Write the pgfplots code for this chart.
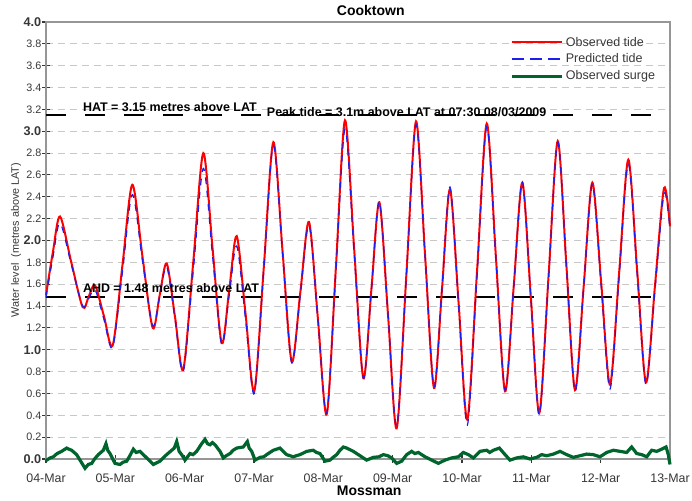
\documentclass[border=0pt]{standalone}
\usepackage{fontspec}
\setmainfont{Liberation Sans}
\usepackage{pgfplots}
\pgfplotsset{compat=1.18}
\usepackage{pgfplotstable}

\definecolor{obsred}{RGB}{255,0,0}
\definecolor{predblue}{RGB}{30,30,235}
\definecolor{surgegreen}{RGB}{0,100,45}
\definecolor{gridgray}{RGB}{200,200,200}
\definecolor{axisgray}{RGB}{150,150,150}
\definecolor{labelgray}{RGB}{55,55,55}

\newcommand{\bt}[1]{{\fontsize{9.5}{10}\selectfont\bfseries #1}}

% time in days from 04-Mar 00:00, water level in m above LAT
\pgfplotstableread{
t      obs   pred
0.000  1.50  1.48
0.101  1.90  1.85
0.202  2.22  2.16
0.365  1.80  1.78
0.529  1.39  1.40
0.618  1.49  1.47
0.707  1.59  1.55
0.835  1.31  1.28
0.962  1.04  1.02
1.104  1.78  1.72
1.245  2.51  2.42
1.392  1.85  1.81
1.539  1.20  1.22
1.640  1.50  1.49
1.741  1.79  1.76
1.861  1.30  1.28
1.980  0.82  0.80
2.125  1.81  1.73
2.269  2.80  2.66
2.402  1.93  1.86
2.534  1.06  1.05
2.643  1.55  1.50
2.751  2.04  1.95
2.878  1.33  1.28
3.004  0.62  0.60
3.142  1.76  1.74
3.279  2.90  2.87
3.412  1.90  1.88
3.544  0.89  0.88
3.669  1.53  1.51
3.793  2.17  2.14
3.921  1.29  1.28
4.049  0.41  0.42
4.181  1.75  1.72
4.3125 3.10  3.02
4.445  1.92  1.88
4.577  0.74  0.74
4.693  1.55  1.55
4.808  2.35  2.36
4.933  1.32  1.33
5.058  0.28  0.30
5.198  1.69  1.68
5.337  3.09  3.06
5.467  1.87  1.86
5.596  0.65  0.66
5.712  1.56  1.57
5.827  2.47  2.49
5.952  1.42  1.40
6.077  0.36  0.31
6.217  1.72  1.68
6.357  3.07  3.04
6.489  1.85  1.83
6.621  0.62  0.63
6.746  1.58  1.58
6.870  2.53  2.54
6.993  1.48  1.47
7.115  0.42  0.40
7.248  1.67  1.65
7.381  2.91  2.90
7.506  1.77  1.76
7.630  0.63  0.62
7.755  1.58  1.57
7.880  2.53  2.52
8.008  1.61  1.58
8.135  0.68  0.64
8.267  1.71  1.67
8.399  2.74  2.70
8.527  1.72  1.69
8.654  0.70  0.68
8.784  1.59  1.55
8.914  2.48  2.43
9.000  2.13  2.10
}\tide

\pgfplotstableread{
t      surge
0.000  0.00
0.010 -0.01
0.060  0.01
0.106  0.02
0.160  0.05
0.226  0.07
0.298  0.10
0.330  0.09
0.370  0.08
0.442  0.04
0.500 -0.02
0.563 -0.085
0.610 -0.05
0.659 -0.04
0.700  0.00
0.755  0.04
0.827  0.08
0.865  0.14
0.890  0.08
0.923  0.05
0.995 -0.04
1.067 -0.05
1.110 -0.03
1.164 -0.02
1.210  0.03
1.260  0.09
1.300  0.06
1.356  0.07
1.452  0.01
1.500 -0.02
1.548 -0.05
1.644 -0.02
1.690  0.01
1.740  0.04
1.813  0.08
1.850  0.10
1.885  0.16
1.920  0.07
1.957  0.04
2.005 -0.01
2.077  0.05
2.120  0.04
2.173  0.07
2.245  0.14
2.293  0.18
2.330  0.14
2.365  0.13
2.400  0.15
2.438  0.13
2.510  0.07
2.558  0.01
2.600  0.03
2.654  0.05
2.700  0.08
2.750  0.10
2.846  0.11
2.904  0.16
2.930  0.10
2.967  0.07
3.015 -0.01
3.087  0.015
3.140  0.02
3.183  0.04
3.230  0.06
3.279  0.08
3.375  0.10
3.420  0.07
3.471  0.04
3.567  0.02
3.610  0.03
3.664  0.04
3.760  0.07
3.856  0.08
3.900  0.06
3.952  0.05
4.024 -0.02
4.096 -0.01
4.150  0.02
4.193  0.04
4.240  0.08
4.289  0.11
4.337  0.10
4.433  0.07
4.480  0.05
4.529  0.03
4.625 -0.01
4.721  0.015
4.800  0.02
4.866  0.04
4.930  0.03
4.986  0.01
5.058 -0.04
5.130 -0.02
5.202  0.04
5.274  0.07
5.320  0.05
5.370  0.06
5.467  0.02
5.563 -0.01
5.659 -0.04
5.755 -0.01
5.851  0.01
5.947  0.02
6.019  0.06
6.092  0.04
6.164  0.01
6.260  0.07
6.356  0.08
6.400  0.06
6.452  0.08
6.539  0.10
6.621  0.04
6.693 -0.01
6.789  0.01
6.885  0.02
6.981  0.00
7.077  0.015
7.149  0.04
7.221  0.03
7.318  0.045
7.414  0.07
7.510  0.04
7.606  0.015
7.702  0.03
7.798  0.045
7.894  0.04
7.990  0.02
8.087  0.06
8.183  0.08
8.279  0.07
8.375  0.06
8.447  0.11
8.520  0.05
8.592  0.04
8.664  0.02
8.736  0.08
8.808  0.07
8.880  0.09
8.943  0.11
8.976  0.04
9.000 -0.05
}\surge

\begin{document}
\begin{tikzpicture}
\path[use as bounding box] (0,0) rectangle (519pt,375pt);
\begin{axis}[
    at={(34.5pt,30.75pt)}, anchor=south west,
    scale only axis, width=468pt, height=327.75pt,
    xmin=0, xmax=9, ymin=0, ymax=4,
    clip=false,
    xtick={0,1,2,3,4,5,6,7,8,9},
    xticklabels={04-Mar,05-Mar,06-Mar,07-Mar,08-Mar,09-Mar,10-Mar,11-Mar,12-Mar,13-Mar},
    ytick={0,0.2,0.4,0.6,0.8,1,1.2,1.4,1.6,1.8,2,2.2,2.4,2.6,2.8,3,3.2,3.4,3.6,3.8,4},
    yticklabels={\bt{0.0},0.2,0.4,0.6,0.8,\bt{1.0},1.2,1.4,1.6,1.8,\bt{2.0},2.2,2.4,2.6,2.8,\bt{3.0},3.2,3.4,3.6,3.8,\bt{4.0}},
    xtick pos=bottom, ytick pos=left,
    tick align=center, major tick length=6pt,
    tick style={labelgray, line width=0.8pt},
    axis line style={axisgray, line width=1pt},
    ymajorgrids,
    grid style={gridgray, dash pattern=on 5pt off 4pt, line width=0.7pt},
    xticklabel style={font=\fontsize{9.3}{10}\selectfont, text=labelgray, yshift=-4.5pt},
    yticklabel style={font=\fontsize{8.1}{9}\selectfont, text=labelgray, xshift=3pt},
    legend style={at={(axis description cs:1,1)}, anchor=north east,
                  xshift=-9pt, yshift=-9pt, draw=none, fill=none,
                  font=\fontsize{9.4}{11}\selectfont, text=labelgray,
                  row sep=0.3pt, cells={anchor=west}, inner sep=0pt},
    legend image code/.code={\draw[#1] (0pt,0pt) -- (37.5pt,0pt);},
]

% HAT and AHD reference lines
\addplot[forget plot, black, line width=1.4pt, dash pattern=on 15pt off 14.25pt]
  coordinates {(0,3.15) (9,3.15)};
\addplot[forget plot, black, line width=1.4pt, dash pattern=on 15pt off 14.25pt]
  coordinates {(0,1.48) (9,1.48)};

\addplot[obsred, line width=1.5pt, smooth] table[x=t, y=obs] {\tide};
\addlegendentry{Observed tide}

\addplot[forget plot, predblue, line width=0.9pt, smooth, dash pattern=on 5pt off 5pt] table[x=t, y=pred] {\tide};
\addlegendimage{predblue, line width=1.2pt, dash pattern=on 9pt off 4.5pt}
\addlegendentry{Predicted tide}

\addplot[surgegreen, line width=2.4pt] table[x=t, y=surge] {\surge};
\addlegendentry{Observed surge}

\node[anchor=base west, inner sep=0pt, font=\fontsize{9.35}{10}\selectfont\bfseries]
  at (axis cs:0.53,3.18) {HAT = 3.15 metres above LAT};
\node[anchor=base west, inner sep=0pt, font=\fontsize{9.35}{10}\selectfont\bfseries]
  at (axis cs:3.183,3.135) {Peak tide = 3.1m above LAT at 07:30 08/03/2009};
\node[anchor=base west, inner sep=0pt, font=\fontsize{9.35}{10}\selectfont\bfseries]
  at (axis cs:0.53,1.52) {AHD = 1.48 metres above LAT};
\end{axis}

\node[anchor=base, font=\fontsize{10.5}{12}\selectfont\bfseries] at (278.1pt,363.4pt) {Cooktown};
\node[rotate=90, font=\fontsize{8.1}{9}\selectfont, text=labelgray] at (12pt,195pt) {Water level\ \ (metres above LAT)};
\node[anchor=base west, inner sep=0pt, font=\fontsize{10.5}{12}\selectfont\bfseries] at (252.5pt,3.75pt) {Mossman};
\end{tikzpicture}
\end{document}
